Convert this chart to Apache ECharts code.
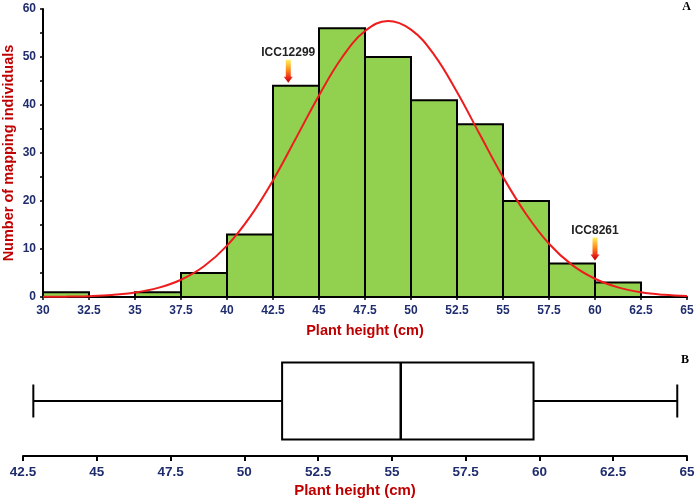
<!DOCTYPE html>
<html>
<head>
<meta charset="utf-8">
<script src="https://cdn.jsdelivr.net/npm/echarts@6/dist/echarts.min.js"></script>
<style>html,body{margin:0;padding:0;background:#fff;}#c{width:697px;height:501px;}</style>
</head>
<body>
<div id="c"></div>
<script>
// Histogram bins (cm) and counts
const binStarts = [30, 32.5, 35, 37.5, 40, 42.5, 45, 47.5, 50, 52.5, 55, 57.5, 60, 62.5];
const binWidth = 2.5;
const binCounts = [1, 0, 1, 5, 13, 44, 56, 50, 41, 36, 20, 7, 3, 0];

// Fitted normal curve
const curveX = [30, 31.25, 32.5, 33.75, 35, 36.25, 37.5, 38.75, 40, 41.25, 42.5, 43.75, 45, 46.25, 47.5, 48.75, 50, 51.25, 52.5, 53.75, 55, 56.25, 57.5, 58.75, 60, 61.25, 62.5, 63.75, 65];
const curveY = [0.03, 0.07, 0.18, 0.42, 0.93, 1.9, 3.6, 6.4, 10.7, 16.7, 24.3, 33.1, 42.0, 49.9, 55.4, 57.5, 55.7, 50.5, 42.7, 33.8, 25.0, 17.3, 11.1, 6.7, 3.8, 2.0, 0.98, 0.45, 0.19];

// Annotated genotypes: position (cm) and count they point at
const annotNames = ['ICC12299', 'ICC8261'];
const annotX = [43.33, 60];
const annotY = [44, 7];

// Box plot summary: min, Q1, median, Q3, max
const boxStats = [42.85, 51.28, 55.3, 59.8, 64.67];

// Tick settings
const histTicks = { min: 30, max: 65, interval: 2.5 };
const countTicks = { min: 0, max: 60, interval: 10 };
const boxTicks = { min: 42.5, max: 65, interval: 2.5 };

const navy = '#1f2d6e';
const red = '#c00000';

const histData = binStarts.map((s, i) => [s, s + binWidth, binCounts[i]]);
const curveData = curveX.map((x, i) => [x, curveY[i]]);
const annotData = annotNames.map((n, i) => [annotX[i], annotY[i], n]);

const chart = echarts.init(document.getElementById('c'));
chart.setOption({
  animation: false,
  backgroundColor: '#fff',
  grid: [
    { left: 43, right: 10, top: 9, bottom: 204, containLabel: false, outerBoundsMode: 'none' },
    { left: 23, right: 10, top: 346, bottom: 45, containLabel: false, outerBoundsMode: 'none' }
  ],
  xAxis: [
    {
      type: 'value', gridIndex: 0, min: histTicks.min, max: histTicks.max, interval: histTicks.interval,
      name: 'Plant height (cm)', nameLocation: 'middle', nameGap: 26, nameMoveOverlap: false,
      nameTextStyle: { color: red, fontWeight: 'bold', fontSize: 14.5, fontFamily: 'Liberation Sans' },
      axisLine: { show: true, lineStyle: { color: '#000', width: 2 } },
      axisTick: { show: true, inside: false, length: 3, lineStyle: { color: '#000', width: 1.5 } },
      axisLabel: { color: navy, fontWeight: 'bold', fontSize: 12, fontFamily: 'Liberation Sans', margin: 8, showMinLabel: true, showMaxLabel: true },
      splitLine: { show: false }
    },
    {
      type: 'value', gridIndex: 1, min: boxTicks.min, max: boxTicks.max, interval: boxTicks.interval,
      name: 'Plant height (cm)', nameLocation: 'middle', nameGap: 27, nameMoveOverlap: false,
      nameTextStyle: { color: red, fontWeight: 'bold', fontSize: 15, fontFamily: 'Liberation Sans' },
      axisLine: { show: true, lineStyle: { color: '#000', width: 2 } },
      axisTick: { show: true, inside: false, length: 5, lineStyle: { color: '#000', width: 2 } },
      axisLabel: { color: navy, fontWeight: 'bold', fontSize: 13.5, fontFamily: 'Liberation Sans', margin: 9, showMinLabel: true, showMaxLabel: true },
      splitLine: { show: false }
    }
  ],
  yAxis: [
    {
      type: 'value', gridIndex: 0, min: countTicks.min, max: countTicks.max, interval: countTicks.interval,
      name: 'Number of mapping individuals', nameLocation: 'middle', nameGap: 27, nameMoveOverlap: false,
      nameTextStyle: { color: red, fontWeight: 'bold', fontSize: 14.5, fontFamily: 'Liberation Sans' },
      axisLine: { show: true, lineStyle: { color: '#000', width: 2 } },
      axisTick: { show: true, inside: false, length: 3, lineStyle: { color: '#000', width: 1.5 } },
      minorTick: { show: true, splitNumber: 2, length: 3, lineStyle: { color: '#000', width: 1.5 } },
      axisLabel: { color: navy, fontWeight: 'bold', fontSize: 12, fontFamily: 'Liberation Sans', margin: 7 },
      splitLine: { show: false }
    },
    {
      type: 'category', gridIndex: 1, data: [''],
      show: false
    }
  ],
  graphic: [
    { type: 'text', right: 6, top: 1, style: { text: 'A', font: 'bold 12px "Liberation Serif"', fill: '#000' } },
    { type: 'text', right: 8, top: 354, style: { text: 'B', font: 'bold 12px "Liberation Serif"', fill: '#000' } }
  ],
  series: [
    {
      type: 'custom', xAxisIndex: 0, yAxisIndex: 0,
      data: histData,
      renderItem: function (params, api) {
        const c = api.value(2);
        if (c <= 0) return null;
        const p0 = api.coord([api.value(0), 0]);
        const p1 = api.coord([api.value(1), c]);
        return {
          type: 'rect',
          shape: { x: p0[0], y: p1[1], width: p1[0] - p0[0], height: p0[1] - p1[1] },
          style: { fill: '#92d050', stroke: '#000', lineWidth: 2 }
        };
      },
      z: 2
    },
    {
      type: 'line', xAxisIndex: 0, yAxisIndex: 0,
      data: curveData, smooth: 0.4, showSymbol: false, symbol: 'none',
      lineStyle: { color: '#ee1c1c', width: 2 },
      z: 3
    },
    {
      type: 'custom', xAxisIndex: 0, yAxisIndex: 0,
      data: annotData,
      renderItem: function (params, api) {
        const p = api.coord([api.value(0), api.value(1)]);
        const cx = p[0];
        const tip = p[1] - 3;
        const top = tip - 23;
        const neck = tip - 6;
        return {
          type: 'group',
          children: [
            {
              type: 'polygon',
              shape: { points: [[cx - 2.5, top], [cx + 2.5, top], [cx + 2.5, neck], [cx + 4.5, neck], [cx, tip], [cx - 4.5, neck], [cx - 2.5, neck]] },
              style: {
                fill: { type: 'linear', x: 0, y: 0, x2: 0, y2: 1, colorStops: [
                  { offset: 0, color: '#fff25a' }, { offset: 0.45, color: '#ff8a1a' }, { offset: 0.8, color: '#e8201a' }, { offset: 1, color: '#b00000' }
                ] }
              }
            },
            {
              type: 'text',
              style: { text: annotNames[params.dataIndex], x: cx, y: tip - 30, align: 'center', verticalAlign: 'middle',
                font: 'bold 12px "Liberation Sans"', fill: '#222' }
            }
          ]
        };
      },
      z: 5
    },
    {
      type: 'custom', xAxisIndex: 1, yAxisIndex: 1,
      data: [[0].concat(boxStats)],
      encode: { x: [1, 2, 3, 4, 5], y: 0 },
      renderItem: function (params, api) {
        const band = api.size([0, 1])[1];
        const pMin = api.coord([api.value(1), 0]);
        const pQ1 = api.coord([api.value(2), 0]);
        const pMed = api.coord([api.value(3), 0]);
        const pQ3 = api.coord([api.value(4), 0]);
        const pMax = api.coord([api.value(5), 0]);
        const cy = pMed[1];
        const bh = band * 0.35;
        const ch = band * 0.15;
        const ls = { stroke: '#000', lineWidth: 2, fill: null };
        return {
          type: 'group',
          children: [
            { type: 'line', shape: { x1: pMin[0], y1: cy, x2: pQ1[0], y2: cy }, style: ls },
            { type: 'line', shape: { x1: pQ3[0], y1: cy, x2: pMax[0], y2: cy }, style: ls },
            { type: 'line', shape: { x1: pMin[0], y1: cy - ch, x2: pMin[0], y2: cy + ch }, style: ls },
            { type: 'line', shape: { x1: pMax[0], y1: cy - ch, x2: pMax[0], y2: cy + ch }, style: ls },
            { type: 'rect', shape: { x: pQ1[0], y: cy - bh, width: pQ3[0] - pQ1[0], height: 2 * bh }, style: { stroke: '#000', lineWidth: 2, fill: '#fff' } },
            { type: 'line', shape: { x1: pMed[0], y1: cy - bh, x2: pMed[0], y2: cy + bh }, style: { stroke: '#000', lineWidth: 2.5 } }
          ]
        };
      }
    }
  ]
});
</script>
</body>
</html>
